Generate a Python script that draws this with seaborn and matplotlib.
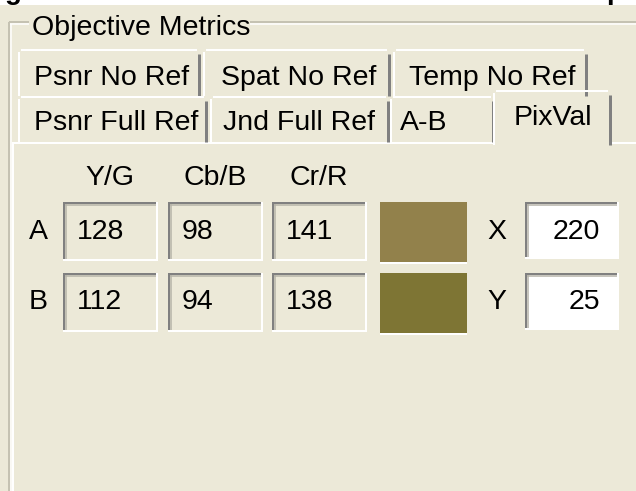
import numpy as np
import matplotlib
matplotlib.use("Agg")
import matplotlib.pyplot as plt
from matplotlib.patches import Rectangle
import seaborn as sns

# ---- dialog content ----
group_title = "Objective Metrics"
tabs_row1 = ["Psnr No Ref", "Spat No Ref", "Temp No Ref"]
tabs_row2 = ["Psnr Full Ref", "Jnd Full Ref", "A-B", "PixVal"]
active_tab = "PixVal"
channels = ["Y/G", "Cb/B", "Cr/R"]
row_names = ["A", "B"]
pix_a = [128, 98, 141]
pix_b = [112, 94, 138]
coord_names = ["X", "Y"]
coord_vals = [220, 25]

# ---- layout (pixels, y downwards) ----
W, H = 636, 491
BG = "#ECE9D8"
DARK = "#808080"
ETCH = "#C5C2B2"
tab1_x = [(18, 201), (203, 391), (393, 588)]
tab2_x = [(18, 208), (210, 390), (390, 495), (493, 612)]
tab2_text_x = [116, 299, 424, 553]
row1_y, row2_y, pane_y = (49, 96), (96, 142), 142
box_x = [63, 168, 272]
box_w = 94
row_top = [202, 273]
row_h = 58
row_base = [239, 309]
swatch_x = (380, 467)
coord_lab_x = 497
coord_box = (525, 618)
FS = 20.5

sns.set_theme(style="white")
plt.rcParams["font.family"] = ["Liberation Sans", "DejaVu Sans"]

fig = plt.figure(figsize=(6.36, 4.91), dpi=100, facecolor=BG)
ax = fig.add_axes([0, 0, 1, 1])
ax.set_xlim(0, W)
ax.set_ylim(H, 0)
ax.axis("off")
ax.set_facecolor(BG)


def px(n):
    return n * 0.72


def hline(x0, x1, y, c, w=1):
    ax.plot([x0, x1], [y, y], color=c, lw=px(w), solid_capstyle="butt")


def vline(x, y0, y1, c, w=1):
    ax.plot([x, x], [y0, y1], color=c, lw=px(w), solid_capstyle="butt")


def rect(x0, y0, x1, y1, c):
    ax.add_patch(Rectangle((x0, y0), x1 - x0, y1 - y0, fc=c, ec="none"))


def label(x, y, s, ha="left"):
    ax.text(x, y, s, fontsize=FS, ha=ha, va="baseline", color="black")


# top strip with clipped heading above the dialog
rect(0, 0, W, 5, "white")
ax.text(5, -1, "g", fontsize=20, fontweight="bold", color="black", va="baseline")
ax.text(606, -1, "p", fontsize=20, fontweight="bold", color="black", va="baseline")

# group box (etched)
for seg in [(9, 29), (250, W)]:
    hline(*seg, 22, ETCH, 2)
    hline(*seg, 24, "white", 1.5)
vline(9, 22, H, ETCH, 2)
vline(11, 24, H, "white", 1.5)
label(32, 35, group_title)


def tab(x0, x1, y0, y1, text, tx, ty):
    rect(x0, y0, x1, y1, BG)
    vline(x0 + 1, y0 + 3, y1, "white", 2)
    hline(x0 + 3, x1 - 4, y0 + 1, "white", 2)
    vline(x1 - 2, y0 + 5, y1, DARK, 3)
    label(tx, ty, text, ha="center")


for lab, (x0, x1) in zip(tabs_row1, tab1_x):
    tab(x0, x1, row1_y[0], row1_y[1], lab, (x0 + x1) / 2 + 2, 85)

# pane top edge
hline(12, tab2_x[3][0], pane_y + 1, "white", 2)
hline(tab2_x[3][1], W, pane_y + 1, "white", 2)
vline(13, pane_y, H, "white", 2)

for lab, (x0, x1), tx in zip(tabs_row2, tab2_x, tab2_text_x):
    if lab == active_tab:
        tab(x0, x1, row2_y[0] - 6, pane_y + 3, lab, tx, 125)
    else:
        tab(x0, x1, row2_y[0], row2_y[1], lab, tx, 130)


def sunken(x0, y0, x1, y1, fill):
    rect(x0, y0, x1, y1, fill)
    hline(x0, x1, y0 + 1, DARK, 2)
    hline(x0 + 2, x1 - 1, y0 + 3, "#B5B3A8", 1.5)
    vline(x0 + 1, y0, y1, DARK, 2)
    vline(x0 + 3, y0 + 2, y1 - 1, "#B5B3A8", 1.5)
    hline(x0, x1 + 1, y1, "white", 2)
    vline(x1, y0, y1 + 1, "white", 2)


def ycbcr_to_rgb(y, cb, cr):
    r = y + 1.402 * (cr - 128)
    g = y - 0.344136 * (cb - 128) - 0.714136 * (cr - 128)
    b = y + 1.772 * (cb - 128)
    return tuple(np.clip(np.array([r, g, b]) / 255, 0, 1))


# channel headers
for ch, x0 in zip(channels, box_x):
    label(x0 + box_w / 2, 185, ch, ha="center")

for i, (rn, vals) in enumerate(zip(row_names, [pix_a, pix_b])):
    top, base = row_top[i], row_base[i]
    label(38, base, rn, ha="center")
    for v, x0 in zip(vals, box_x):
        sunken(x0, top, x0 + box_w, top + row_h, BG)
        label(x0 + 14, base, str(v))
    rect(swatch_x[0], top, swatch_x[1], top + row_h + 2, ycbcr_to_rgb(*vals))
    hline(swatch_x[0], swatch_x[1], top + row_h + 3, "white", 2)
    label(coord_lab_x, base, coord_names[i], ha="center")
    sunken(coord_box[0], top, coord_box[1], top + row_h - 2, "white")
    label(coord_box[1] - 18, base, str(coord_vals[i]), ha="right")

fig.savefig("out.png", dpi=100, facecolor=BG)
